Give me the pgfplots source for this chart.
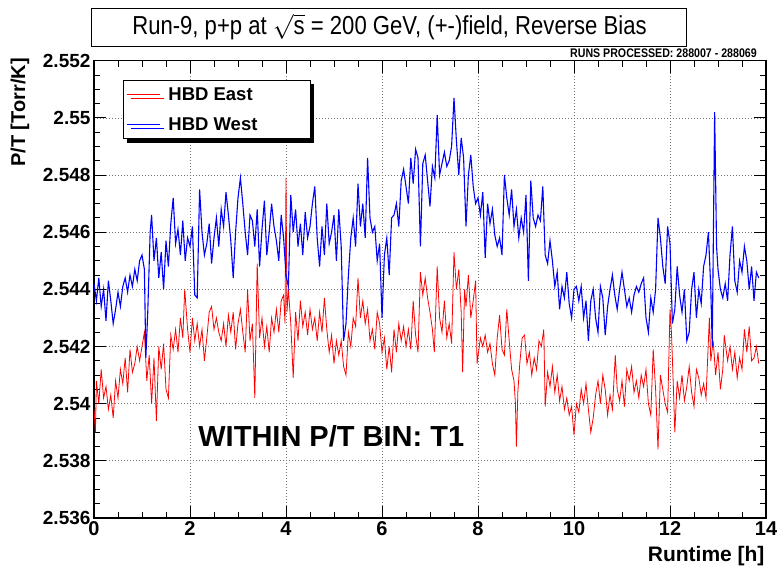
\documentclass[border=0pt]{standalone}
\usepackage{fontspec}
\setmainfont{Liberation Sans}
\newfontfamily\condfont{Liberation Sans}[FakeStretch=0.85]
\usepackage{pgfplots}
\usepackage{pgfplotstable}
\pgfplotsset{compat=1.18}
\usetikzlibrary{shadows}

\pgfplotstableread{
x y
0.00 2.5442
0.05 2.5436
0.10 2.5444
0.15 2.5434
0.20 2.5440
0.25 2.5429
0.30 2.5443
0.35 2.5436
0.40 2.5428
0.45 2.5433
0.50 2.5439
0.55 2.5434
0.60 2.5441
0.65 2.5444
0.70 2.5439
0.75 2.5445
0.80 2.5441
0.85 2.5447
0.90 2.5443
0.95 2.5450
1.00 2.5452
1.05 2.5447
1.08 2.5416
1.12 2.5432
1.17 2.5460
1.20 2.5466
1.25 2.5450
1.30 2.5458
1.35 2.5444
1.40 2.5453
1.45 2.5440
1.50 2.5457
1.55 2.5448
1.60 2.5463
1.65 2.5472
1.70 2.5456
1.75 2.5461
1.80 2.5452
1.85 2.5464
1.90 2.5450
1.95 2.5458
2.00 2.5455
2.05 2.5462
2.10 2.5438
2.15 2.5437
2.20 2.5475
2.25 2.5460
2.30 2.5452
2.35 2.5456
2.40 2.5463
2.45 2.5449
2.50 2.5458
2.55 2.5465
2.60 2.5455
2.65 2.5468
2.70 2.5462
2.75 2.5474
2.80 2.5466
2.85 2.5457
2.90 2.5444
2.95 2.5460
3.00 2.5472
3.05 2.5479
3.10 2.5470
3.15 2.5460
3.20 2.5452
3.25 2.5466
3.30 2.5464
3.35 2.5455
3.40 2.5468
3.45 2.5448
3.50 2.5461
3.55 2.5471
3.60 2.5452
3.65 2.5460
3.70 2.5470
3.75 2.5462
3.80 2.5457
3.85 2.5450
3.90 2.5466
3.95 2.5458
4.00 2.5445
4.05 2.5441
4.10 2.5473
4.15 2.5460
4.20 2.5468
4.25 2.5455
4.30 2.5463
4.35 2.5452
4.40 2.5467
4.45 2.5458
4.50 2.5462
4.55 2.5470
4.60 2.5476
4.65 2.5458
4.70 2.5448
4.75 2.5462
4.80 2.5452
4.85 2.5470
4.90 2.5456
4.95 2.5460
5.00 2.5466
5.05 2.5450
5.10 2.5468
5.15 2.5455
5.20 2.5422
5.25 2.5428
5.30 2.5445
5.35 2.5458
5.40 2.5465
5.45 2.5455
5.50 2.5477
5.55 2.5462
5.60 2.5470
5.65 2.5458
5.70 2.5486
5.75 2.5465
5.80 2.5460
5.85 2.5462
5.90 2.5450
5.95 2.5456
6.00 2.5430
6.05 2.5452
6.10 2.5458
6.15 2.5445
6.20 2.5465
6.25 2.5466
6.30 2.5470
6.35 2.5462
6.40 2.5478
6.45 2.5482
6.50 2.5476
6.55 2.5470
6.60 2.5486
6.65 2.5477
6.70 2.5489
6.75 2.5486
6.80 2.5455
6.85 2.5484
6.90 2.5487
6.95 2.5478
7.00 2.5469
7.05 2.5483
7.10 2.5479
7.15 2.5501
7.20 2.5480
7.25 2.5484
7.30 2.5488
7.35 2.5483
7.40 2.5485
7.45 2.5490
7.50 2.5507
7.55 2.5492
7.60 2.5480
7.65 2.5493
7.70 2.5486
7.75 2.5462
7.80 2.5480
7.85 2.5487
7.90 2.5476
7.95 2.5470
8.00 2.5472
8.05 2.5466
8.10 2.5474
8.15 2.5451
8.20 2.5470
8.25 2.5463
8.30 2.5468
8.35 2.5459
8.40 2.5455
8.45 2.5458
8.50 2.5452
8.55 2.5480
8.60 2.5472
8.65 2.5466
8.70 2.5475
8.75 2.5462
8.80 2.5468
8.85 2.5458
8.90 2.5465
8.95 2.5460
9.00 2.5473
9.05 2.5443
9.10 2.5478
9.15 2.5465
9.20 2.5462
9.25 2.5466
9.30 2.5464
9.35 2.5476
9.40 2.5452
9.45 2.5449
9.50 2.5457
9.55 2.5450
9.60 2.5441
9.65 2.5446
9.70 2.5433
9.75 2.5441
9.80 2.5437
9.85 2.5446
9.90 2.5435
9.95 2.5430
10.00 2.5440
10.05 2.5441
10.10 2.5436
10.15 2.5441
10.20 2.5430
10.25 2.5436
10.30 2.5422
10.35 2.5436
10.40 2.5440
10.45 2.5430
10.50 2.5425
10.55 2.5441
10.60 2.5437
10.65 2.5424
10.70 2.5434
10.75 2.5440
10.80 2.5445
10.85 2.5438
10.90 2.5433
10.95 2.5440
11.00 2.5446
11.05 2.5440
11.10 2.5434
11.15 2.5437
11.20 2.5432
11.25 2.5438
11.30 2.5441
11.35 2.5439
11.40 2.5442
11.45 2.5444
11.50 2.5430
11.55 2.5425
11.60 2.5437
11.65 2.5432
11.70 2.5440
11.75 2.5465
11.80 2.5458
11.85 2.5448
11.90 2.5442
11.95 2.5462
12.00 2.5456
12.05 2.5428
12.10 2.5433
12.15 2.5448
12.20 2.5438
12.25 2.5432
12.30 2.5440
12.35 2.5422
12.40 2.5425
12.45 2.5440
12.50 2.5446
12.55 2.5430
12.60 2.5440
12.65 2.5435
12.70 2.5448
12.75 2.5452
12.80 2.5460
12.85 2.5440
12.88 2.5420
12.93 2.5502
12.97 2.5455
13.00 2.5447
13.05 2.5440
13.10 2.5437
13.15 2.5442
13.20 2.5436
13.25 2.5452
13.30 2.5462
13.35 2.5443
13.40 2.5439
13.45 2.5450
13.50 2.5446
13.55 2.5455
13.60 2.5450
13.65 2.5440
13.70 2.5448
13.75 2.5436
13.80 2.5446
13.85 2.5444
}\westtable

\pgfplotstableread{
x y
0.00 2.5398
0.03 2.5390
0.05 2.5408
0.10 2.5400
0.15 2.5412
0.20 2.5402
0.25 2.5406
0.30 2.5398
0.35 2.5403
0.40 2.5395
0.45 2.5408
0.50 2.5402
0.55 2.5412
0.60 2.5407
0.65 2.5416
0.70 2.5404
0.75 2.5419
0.80 2.5411
0.85 2.5414
0.90 2.5420
0.95 2.5415
1.00 2.5420
1.05 2.5425
1.10 2.5408
1.15 2.5417
1.20 2.5400
1.25 2.5416
1.30 2.5394
1.35 2.5420
1.40 2.5412
1.45 2.5421
1.50 2.5405
1.55 2.5402
1.60 2.5424
1.65 2.5419
1.70 2.5426
1.75 2.5418
1.80 2.5430
1.85 2.5423
1.89 2.5440
1.95 2.5426
2.00 2.5418
2.05 2.5430
2.10 2.5422
2.15 2.5428
2.20 2.5420
2.25 2.5426
2.30 2.5415
2.35 2.5423
2.40 2.5432
2.45 2.5434
2.50 2.5426
2.55 2.5430
2.60 2.5425
2.65 2.5422
2.70 2.5428
2.75 2.5420
2.80 2.5431
2.85 2.5425
2.90 2.5432
2.95 2.5419
3.00 2.5428
3.05 2.5433
3.10 2.5425
3.15 2.5418
3.20 2.5440
3.25 2.5422
3.30 2.5428
3.35 2.5402
3.40 2.5449
3.45 2.5423
3.50 2.5430
3.55 2.5420
3.60 2.5427
3.65 2.5418
3.70 2.5430
3.75 2.5425
3.80 2.5433
3.85 2.5425
3.90 2.5436
3.95 2.5438
3.98 2.5428
4.00 2.5479
4.02 2.5432
4.05 2.5440
4.10 2.5428
4.15 2.5409
4.20 2.5432
4.25 2.5422
4.30 2.5436
4.35 2.5427
4.40 2.5432
4.45 2.5424
4.50 2.5433
4.55 2.5426
4.60 2.5430
4.65 2.5422
4.70 2.5432
4.75 2.5425
4.80 2.5437
4.85 2.5426
4.90 2.5418
4.95 2.5424
5.00 2.5414
5.05 2.5422
5.10 2.5417
5.15 2.5422
5.20 2.5413
5.25 2.5410
5.30 2.5425
5.35 2.5420
5.40 2.5430
5.45 2.5427
5.50 2.5444
5.55 2.5430
5.60 2.5436
5.65 2.5428
5.70 2.5433
5.75 2.5422
5.80 2.5426
5.85 2.5419
5.90 2.5432
5.95 2.5428
6.00 2.5418
6.05 2.5423
6.10 2.5412
6.15 2.5420
6.20 2.5411
6.25 2.5426
6.30 2.5418
6.35 2.5428
6.40 2.5422
6.45 2.5427
6.50 2.5420
6.55 2.5426
6.60 2.5419
6.65 2.5436
6.70 2.5424
6.75 2.5418
6.80 2.5446
6.85 2.5438
6.90 2.5444
6.95 2.5437
7.00 2.5432
7.05 2.5426
7.09 2.5418
7.15 2.5448
7.20 2.5430
7.25 2.5425
7.30 2.5436
7.35 2.5423
7.40 2.5428
7.45 2.5421
7.50 2.5453
7.55 2.5440
7.60 2.5447
7.65 2.5432
7.68 2.5411
7.72 2.5440
7.75 2.5434
7.80 2.5445
7.85 2.5430
7.90 2.5436
7.95 2.5443
7.98 2.5414
8.05 2.5423
8.10 2.5420
8.15 2.5424
8.20 2.5418
8.25 2.5421
8.30 2.5414
8.35 2.5410
8.40 2.5423
8.45 2.5431
8.50 2.5419
8.55 2.5417
8.60 2.5433
8.65 2.5422
8.70 2.5412
8.75 2.5408
8.78 2.5400
8.80 2.5385
8.83 2.5404
8.87 2.5414
8.92 2.5423
8.97 2.5424
9.02 2.5414
9.07 2.5418
9.12 2.5410
9.17 2.5416
9.22 2.5412
9.27 2.5422
9.32 2.5420
9.37 2.5426
9.40 2.5399
9.45 2.5411
9.50 2.5406
9.55 2.5413
9.60 2.5404
9.65 2.5410
9.70 2.5401
9.75 2.5406
9.80 2.5398
9.85 2.5402
9.90 2.5396
9.95 2.5399
10.00 2.5389
10.05 2.5400
10.10 2.5397
10.15 2.5405
10.20 2.5400
10.25 2.5407
10.30 2.5398
10.35 2.5390
10.40 2.5395
10.45 2.5403
10.50 2.5408
10.55 2.5400
10.60 2.5410
10.65 2.5405
10.70 2.5396
10.75 2.5403
10.80 2.5398
10.86 2.5417
10.90 2.5405
10.95 2.5401
11.00 2.5408
11.05 2.5399
11.10 2.5412
11.15 2.5408
11.20 2.5413
11.25 2.5404
11.30 2.5408
11.35 2.5402
11.40 2.5410
11.45 2.5406
11.50 2.5412
11.55 2.5400
11.60 2.5396
11.65 2.5419
11.70 2.5405
11.75 2.5384
11.80 2.5410
11.85 2.5405
11.90 2.5400
11.95 2.5397
12.00 2.5433
12.03 2.5425
12.07 2.5406
12.10 2.5390
12.15 2.5408
12.20 2.5402
12.25 2.5410
12.30 2.5401
12.35 2.5406
12.40 2.5413
12.45 2.5404
12.50 2.5399
12.55 2.5412
12.60 2.5409
12.65 2.5403
12.70 2.5407
12.75 2.5402
12.82 2.5430
12.85 2.5415
12.90 2.5422
12.95 2.5410
13.00 2.5418
13.05 2.5405
13.10 2.5412
13.13 2.5424
13.20 2.5415
13.25 2.5420
13.30 2.5412
13.35 2.5418
13.40 2.5409
13.45 2.5416
13.50 2.5412
13.55 2.5426
13.60 2.5418
13.65 2.5427
13.70 2.5415
13.75 2.5416
13.80 2.5420
13.85 2.5414
}\easttable

\begin{document}
\begin{tikzpicture}
\useasboundingbox (-94pt,-51pt) rectangle (687pt,518pt);
\begin{axis}[
  at={(0pt,0pt)}, anchor=south west,
  scale only axis, width=672pt, height=457.3pt,
  clip mode=individual,
  xmin=0, xmax=14, ymin=2.536, ymax=2.552,
  xtick={0,2,4,6,8,10,12,14},
  xticklabels={0,2,4,6,8,10,12,14},
  ytick={2.536,2.538,2.540,2.542,2.544,2.546,2.548,2.550,2.552},
  yticklabels={2.536,2.538,2.54,2.542,2.544,2.546,2.548,2.55,2.552},
  minor x tick num=3, minor y tick num=3,
  tick align=inside, major tick length=12pt, minor tick length=6pt,
  tick style={black, line width=0.8pt},
  axis line style={black, line width=1.2pt},
  grid=major,
  major grid style={black!55, line width=0.7pt, dash pattern=on 1pt off 2pt},
  yticklabel style={font=\bfseries\fontsize{19}{19}\selectfont},
  xticklabel style={font=\bfseries\fontsize{20}{20}\selectfont},
  xlabel={Runtime [h]},
  xlabel style={at={(axis description cs:1.003,-0.096)}, anchor=base east,
    font=\bfseries\fontsize{21}{21}\selectfont},
  ylabel={P/T [Torr/K]},
  ylabel style={at={(axis description cs:-0.110,1.013)}, anchor=east,
    font=\bfseries\fontsize{20}{20}\selectfont},
  legend style={at={(axis description cs:0.043,0.958)}, anchor=north west,
    draw=black, line width=1pt, fill=white,
    font=\bfseries\fontsize{18.5}{20}\selectfont,
    inner xsep=3pt, inner ysep=5pt, row sep=12pt,
    drop shadow={shadow xshift=4pt, shadow yshift=-4pt, fill=black, opacity=1}},
  legend cell align=left,
  legend image code/.code={\draw[#1, line width=1pt] plot coordinates {(0pt,0pt) (16pt,0pt) (33pt,0pt)};},
]
\addplot[red, line width=0.8pt, mark=none] table[x=x, y=y] {\easttable};
\addlegendentry{\makebox[143pt][l]{\hspace{6pt}HBD East}}
\addplot[blue, line width=1.1pt, mark=none] table[x=x, y=y] {\westtable};
\addlegendentry{\makebox[143pt][l]{\hspace{6pt}HBD West}}
\node[anchor=base west, inner sep=0pt, font=\bfseries\fontsize{29}{29}\selectfont]
  at (axis cs:2.17,2.5385) {WITHIN P/T BIN: T1};
\node[anchor=east, inner sep=0pt, font=\condfont\bfseries\fontsize{12.5}{12.5}\selectfont]
  at (axis description cs:0.9866,1.0165) {RUNS PROCESSED: 288007 - 288069};
\node[anchor=center, draw=black, line width=1pt, fill=white,
  minimum width=595pt, minimum height=38pt, inner sep=0pt,
  font=\condfont\fontsize{26}{26}\selectfont]
  at (axis description cs:0.4397,1.0736)
  {Run-9, p+p at $\sqrt{\mbox{s}}$ = 200 GeV, (+-)field, Reverse Bias};
\end{axis}
\end{tikzpicture}
\end{document}
